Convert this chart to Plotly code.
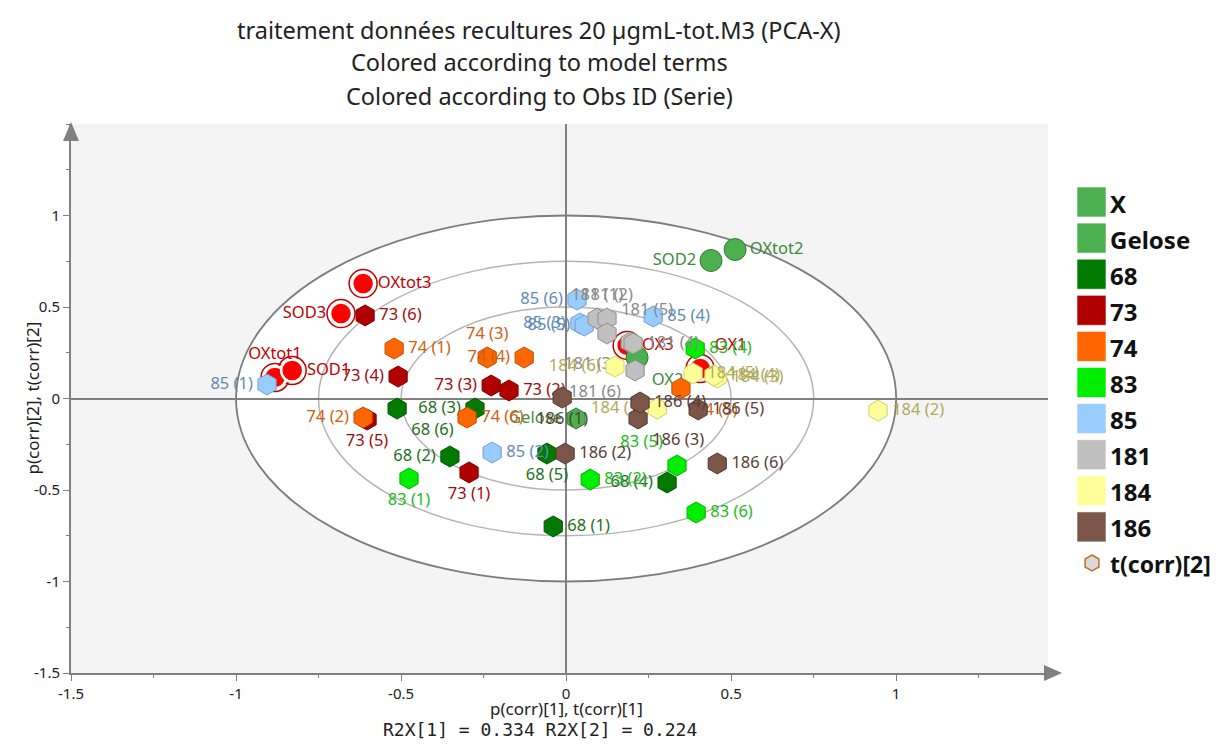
"""PCA-X biplot: p(corr)/t(corr) loadings and scores, coloured by Obs ID (Serie)."""
import plotly.graph_objects as go

FONT = 'Noto Sans'

# ---- data -------------------------------------------------------------
# variables (loadings), red = selected terms, green = other terms
var_red_names = ['OXtot1', 'SOD1', 'SOD3', 'OXtot3', 'OX3', 'OX1']
var_red_x = [-0.882, -0.830, -0.682, -0.615, 0.185, 0.406]
var_red_y = [0.115, 0.153, 0.464, 0.628, 0.290, 0.164]

var_green_names = ['OX2', 'SOD2', 'OXtot2']
var_green_x = [0.215, 0.439, 0.512]
var_green_y = [0.224, 0.754, 0.814]

# observations (scores) per serie
series = ['Gelose', '68', '73', '74', '83', '85', '181', '184', '186']
obs_labels = {
    'Gelose': ['Gelose'],
    '68': ['68 (1)', '68 (2)', '68 (3)', '68 (4)', '68 (5)', '68 (6)'],
    '73': ['73 (1)', '73 (2)', '73 (3)', '73 (4)', '73 (5)', '73 (6)'],
    '74': ['74 (1)', '74 (2)', '74 (3)', '74 (4)', '74 (5)', '74 (6)'],
    '83': ['83 (1)', '83 (2)', '83 (4)', '83 (5)', '83 (6)'],
    '85': ['85 (1)', '85 (2)', '85 (3)', '85 (4)', '85 (5)', '85 (6)'],
    '181': ['181 (1)', '181 (2)', '181 (5)', '181 (3)', '181 (4)', '181 (6)'],
    '184': ['184 (1)', '184 (2)', '184 (3)', '184 (4)', '184 (5)', '184 (6)'],
    '186': ['186 (1)', '186 (2)', '186 (3)', '186 (4)', '186 (5)', '186 (6)'],
}
obs_x = {
    'Gelose': [0.030],
    '68': [-0.039, -0.352, -0.276, 0.306, -0.058, -0.512],
    '73': [-0.294, -0.173, -0.227, -0.509, -0.603, -0.609],
    '74': [-0.521, -0.615, -0.239, -0.127, 0.348, -0.300],
    '83': [-0.476, 0.073, 0.391, 0.336, 0.394],
    '85': [-0.906, -0.224, 0.042, 0.264, 0.055, 0.033],
    '181': [0.094, 0.124, 0.124, 0.194, 0.203, 0.209],
    '184': [0.276, 0.945, 0.458, 0.448, 0.385, 0.148],
    '186': [-0.012, -0.003, 0.218, 0.224, 0.400, 0.458],
}
obs_y = {
    'Gelose': [-0.109],
    '68': [-0.699, -0.317, -0.055, -0.459, -0.301, -0.055],
    '73': [-0.404, 0.044, 0.071, 0.120, -0.115, 0.454],
    '74': [0.273, -0.104, 0.224, 0.224, 0.055, -0.104],
    '83': [-0.437, -0.443, 0.273, -0.366, -0.623],
    '85': [0.077, -0.295, 0.410, 0.448, 0.399, 0.541],
    '181': [0.437, 0.437, 0.355, 0.306, 0.301, 0.153],
    '184': [-0.055, -0.066, 0.115, 0.126, 0.137, 0.175],
    '186': [0.005, -0.301, -0.109, -0.022, -0.060, -0.355],
}
tick_vals = [-1.5, -1, -0.5, 0, 0.5, 1]
tick_text = ['-1.5', '-1', '-0.5', '0', '0.5', '1']

# ---- styles -----------------------------------------------------------
fill = {'X': '#4caf50', 'Gelose': '#4caf50', '68': '#007a00', '73': '#b00000',
        '74': '#ff6600', '83': '#00ee00', '85': '#99ccff', '181': '#c0c0c0',
        '184': '#ffff99', '186': '#7a5548'}
edge = {'Gelose': '#2e7d32', '68': '#005800', '73': '#800000', '74': '#c04d00',
        '83': '#00b400', '85': '#6f9fd0', '181': '#8f8f8f', '184': '#cfcf6a',
        '186': '#553a30'}
txt = {'Gelose': '#3f8f3f', '68': '#1e721e', '73': '#a00e0e', '74': '#cf5f12',
       '83': '#22bb22', '85': '#5f8bb8', '181': '#8a8a8a', '184': '#b2aa5c',
       '186': '#5b4038'}
textpos = {
    'Gelose': ['middle left'],
    '68': ['middle right', 'middle left', 'middle left', 'middle left', 'bottom center', 'bottom right'],
    '73': ['bottom center', 'middle right', 'middle left', 'middle left', 'bottom center', 'middle right'],
    '74': ['middle right', 'middle left', 'top center', 'middle left', 'bottom right', 'middle right'],
    '83': ['bottom center', 'middle right', 'middle right', 'top left', 'middle right'],
    '85': ['middle left', 'middle right', 'middle left', 'middle right', 'middle left', 'middle left'],
    '181': ['top center', 'top center', 'top right', 'bottom left', 'middle right', 'bottom left'],
    '184': ['middle left', 'middle right', 'middle right', 'middle right', 'middle right', 'middle left'],
    '186': ['bottom center', 'middle right', 'bottom right', 'middle right', 'middle right', 'middle right'],
}
var_red_pos = ['top center', 'middle right', 'middle left', 'middle right', 'middle right', 'top right']
var_green_pos = ['bottom right', 'middle left', 'middle right']
LBL = 16.5

# plot-area geometry in pixels (for paper-coordinate decorations)
L, R, T, B = 71, 179, 124, 79
W, H = 1227 - L - R, 752 - T - B


def px(xp):
    return (xp - L) / W


def py(yp):
    return (752 - B - yp) / H


fig = go.Figure()

# correlation circles r = 1, 0.75, 0.5
for r, col, w, fc in [(1.0, '#7d7d7d', 1.8, 'white'), (0.75, '#b5b5b5', 1.5, 'rgba(0,0,0,0)'),
                      (0.5, '#b5b5b5', 1.5, 'rgba(0,0,0,0)')]:
    fig.add_shape(type='circle', xref='x', yref='y', x0=-r, x1=r, y0=-r, y1=r,
                  line=dict(color=col, width=w), fillcolor=fc, layer='below')

# variables
fig.add_trace(go.Scatter(x=var_red_x, y=var_red_y, mode='markers', hoverinfo='skip',
                         marker=dict(symbol='circle-open', size=28, color='#c00000',
                                     line=dict(width=1.5))))
fig.add_trace(go.Scatter(x=var_red_x, y=var_red_y, mode='markers+text', text=var_red_names,
                         textposition=var_red_pos,
                         textfont=dict(family=FONT, size=LBL, color='#c00000'),
                         marker=dict(symbol='circle', size=22, color='#ff0000',
                                     line=dict(color='white', width=2.5))))
fig.add_trace(go.Scatter(x=var_green_x, y=var_green_y, mode='markers+text', text=var_green_names,
                         textposition=var_green_pos,
                         textfont=dict(family=FONT, size=LBL, color='#3d8b3d'),
                         marker=dict(symbol='circle', size=22, color=fill['X'],
                                     line=dict(color='#2e7d32', width=1))))

# observations
for s in series:
    fig.add_trace(go.Scatter(
        x=obs_x[s], y=obs_y[s], mode='markers+text', text=obs_labels[s],
        textposition=textpos[s], name=s,
        textfont=dict(family=FONT, size=LBL, color=txt[s]),
        marker=dict(symbol='hexagon', size=21, color=fill[s],
                    line=dict(color=edge[s], width=1)),
    ))

# axis arrowheads
fig.add_shape(type='path', xref='paper', yref='paper', layer='above',
              path=f'M {px(1044)} {py(665)} L {px(1062)} {py(673)} L {px(1044)} {py(681)} Z',
              fillcolor='#808080', line=dict(width=0))
fig.add_shape(type='path', xref='paper', yref='paper', layer='above',
              path=f'M {px(63)} {py(141)} L {px(71)} {py(122)} L {px(79)} {py(141)} Z',
              fillcolor='#808080', line=dict(width=0))

# titles
for text, yy in [('traitement données recultures 20 µgmL-tot.M3 (PCA-X)', 30),
                 ('Colored according to model terms', 62),
                 ('Colored according to Obs ID (Serie)', 96)]:
    fig.add_annotation(text=text, x=px(539), y=py(yy), xref='paper', yref='paper',
                       showarrow=False, xanchor='center', yanchor='middle',
                       font=dict(family=FONT, size=23.5, color='#222222'))
fig.add_annotation(text='p(corr)[1], t(corr)[1]', x=px(566), y=py(722), xref='paper', yref='paper',
                   showarrow=False, font=dict(family=FONT, size=17, color='#222222'))
fig.add_annotation(text='R2X[1] = 0.334 R2X[2] = 0.224', x=px(540), y=py(742), xref='paper',
                   yref='paper', showarrow=False,
                   font=dict(family='DejaVu Sans Mono', size=18, color='#222222'))
fig.add_annotation(text='p(corr)[2], t(corr)[2]', x=px(18), y=py(398), xref='paper', yref='paper',
                   showarrow=False, textangle=-90,
                   font=dict(family=FONT, size=17, color='#222222'))

# legend (drawn by hand so the swatches can be large)
legend_items = ['X', 'Gelose', '68', '73', '74', '83', '85', '181', '184', '186']
for i, name in enumerate(legend_items):
    cy = 202 + 36.1 * i
    fig.add_shape(type='rect', xref='paper', yref='paper',
                  x0=px(1077), x1=px(1106), y0=py(cy - 15), y1=py(cy + 15),
                  fillcolor=fill[name], line=dict(color='rgba(255,255,255,0.6)', width=1))
    fig.add_annotation(text=f'<b>{name}</b>', x=px(1108), y=py(cy + 1), xref='paper', yref='paper',
                       showarrow=False, xanchor='left', yanchor='middle',
                       font=dict(family=FONT, size=24, color='#111111'))
cy = 202 + 36.1 * 10
hx, hr = 1092, 8
pts = [(hx, cy - hr), (hx + 0.866 * hr, cy - hr / 2), (hx + 0.866 * hr, cy + hr / 2),
       (hx, cy + hr), (hx - 0.866 * hr, cy + hr / 2), (hx - 0.866 * hr, cy - hr / 2)]
path = 'M ' + ' L '.join(f'{px(a)} {py(b)}' for a, b in pts) + ' Z'
fig.add_shape(type='path', xref='paper', yref='paper', path=path,
              fillcolor='#d9d9d9', line=dict(color='#b8742a', width=1.5))
fig.add_annotation(text='<b>t(corr)[2]</b>', x=px(1108), y=py(cy + 1), xref='paper', yref='paper',
                   showarrow=False, xanchor='left', yanchor='middle',
                   font=dict(family=FONT, size=23, color='#111111'))

axis_common = dict(showgrid=False, zeroline=True, zerolinecolor='#808080', zerolinewidth=1.5,
                   showline=True, linecolor='#808080', linewidth=2, ticks='outside',
                   ticklen=6, tickcolor='#808080', tickvals=tick_vals, ticktext=tick_text,
                   tickfont=dict(family=FONT, size=15, color='#222222'),
                   minor=dict(dtick=0.25, tick0=-1.5, ticklen=3, ticks='outside', tickcolor='#808080'))
fig.update_xaxes(range=[-1.5, 1.46], **axis_common)
fig.update_yaxes(range=[-1.5, 1.5], **axis_common)

fig.update_layout(
    width=1227, height=752, showlegend=False,
    margin=dict(l=L, r=R, t=T, b=B),
    plot_bgcolor='#f4f4f4', paper_bgcolor='white',
    font=dict(family=FONT, color='#222222'),
)

# body has a default 8px margin in the browser; remove it so the figure sits at 0,0
fig.write_html('out.html', config={'displayModeBar': False},
               post_script="document.body.style.margin='0px';")
